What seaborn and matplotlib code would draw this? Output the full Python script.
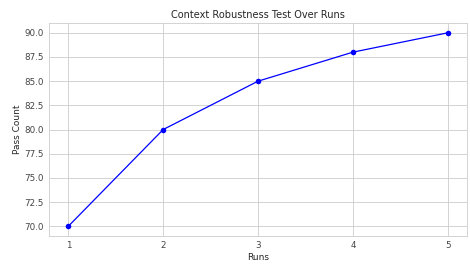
import matplotlib
matplotlib.use('Agg')
import matplotlib.pyplot as plt
import seaborn as sns
import pandas as pd

# Data
runs = [1, 2, 3, 4, 5]
pass_count = [70, 80, 85, 88, 90]

df = pd.DataFrame({'Runs': runs, 'Pass Count': pass_count})

sns.set_theme(style='whitegrid')

fig, ax = plt.subplots(figsize=(4.7, 2.66), dpi=100)
sns.lineplot(data=df, x='Runs', y='Pass Count', marker='o', color='blue',
             linewidth=0.9, markersize=4, markeredgewidth=0, ax=ax)

ax.set_title('Context Robustness Test Over Runs', fontsize=7, pad=4)
ax.set_xlabel('Runs', fontsize=6.5, labelpad=1.5)
ax.set_ylabel('Pass Count', fontsize=6.5, labelpad=2)
ax.set_xticks(runs)
ax.tick_params(labelsize=6.3, length=0, pad=4, colors='#444444')
for s in ax.spines.values():
    s.set_linewidth(0.6)
ax.grid(linewidth=0.6)

plt.subplots_adjust(left=0.105, right=0.993, top=0.913, bottom=0.113)
plt.savefig('out.png', dpi=100)
